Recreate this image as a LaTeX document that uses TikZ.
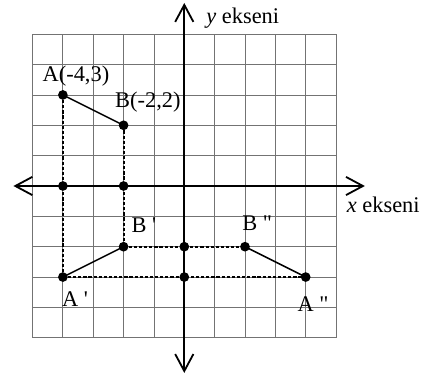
\documentclass[tikz,border=0pt]{standalone}
\usepackage{fontspec}
\setmainfont{Liberation Serif}
\usetikzlibrary{arrows.meta,calc}

\begin{document}
\begin{tikzpicture}[
  font=\fontsize{21}{25}\selectfont,
  gridline/.style={draw=black!55, line width=0.75pt},
  axis/.style={line width=1.7pt, {Straight Barb[length=5.6mm, width=6mm, line width=1.7pt]}-{Straight Barb[length=5.6mm, width=6mm, line width=1.7pt]}},
  proj/.style={line width=2pt, dash pattern=on 3pt off 1.8pt},
  seg/.style={line width=1.4pt},
  dot/.style={circle, fill=black, inner sep=0pt, minimum size=3.2mm},
  lbl/.style={inner sep=0pt}
]
\useasboundingbox (-6.072,-6.326) rectangle (7.799,6.128);

% ---------- Grid ----------
\draw[gridline] (-5,-5) grid (5,5);

% ---------- Axes ----------
\coordinate (xl) at (-5.63,0);
\coordinate (xr) at (5.95,0);
\coordinate (yt) at (0,6.03);
\coordinate (yb) at (0,-6.16);
\draw[axis] (xl) -- (xr);
\draw[axis] (yb) -- (yt);
\node[lbl, anchor=base west] (ylab) at (0.72,5.37) {\textit{y} ekseni};
\node[lbl, anchor=base west] (xlab) at (5.35,-0.88) {\textit{x} ekseni};

% ---------- Points ----------
\node[dot] (A)   at (-4,3)  {};
\node[dot] (B)   at (-2,2)  {};
\node[dot] (Ax)  at (-4,0)  {};
\node[dot] (Bx)  at (-2,0)  {};
\node[dot] (Ap)  at (-4,-3) {};
\node[dot] (Bp)  at (-2,-2) {};
\node[dot] (Ay)  at (0,-3)  {};
\node[dot] (By)  at (0,-2)  {};
\node[dot] (App) at (4,-3)  {};
\node[dot] (Bpp) at (2,-2)  {};

% ---------- Projections ----------
\draw[proj] (A.center) -- (Ax.center) -- (Ap.center);
\draw[proj] (B.center) -- (Bx.center) -- (Bp.center);
\draw[proj] (Ap.center) -- (Ay.center) -- (App.center);
\draw[proj] (Bp.center) -- (By.center) -- (Bpp.center);

% ---------- Segments ----------
\draw[seg] (A.center) -- (B.center);
\draw[seg] (Ap.center) -- (Bp.center);
\draw[seg] (App.center) -- (Bpp.center);

% ---------- Labels ----------
\node[lbl] (Alab)   at ($(A)+(0.43,0.62)$)   {A(-4,3)};
\node[lbl] (Blab)   at ($(B)+(0.80,0.77)$)   {B(-2,2)};
\node[lbl] (Bplab)  at ($(Bp)+(0.67,0.72)$)  {B \textquotesingle};
\node[lbl] (Aplab)  at ($(Ap)+(0.40,-0.72)$) {A \textquotesingle};
\node[lbl] (Bpplab) at ($(Bpp)+(0.40,0.78)$) {B \textquotedbl};
\node[lbl] (Applab) at ($(App)+(0.24,-0.89)$) {A \textquotedbl};

\end{tikzpicture}
\end{document}
